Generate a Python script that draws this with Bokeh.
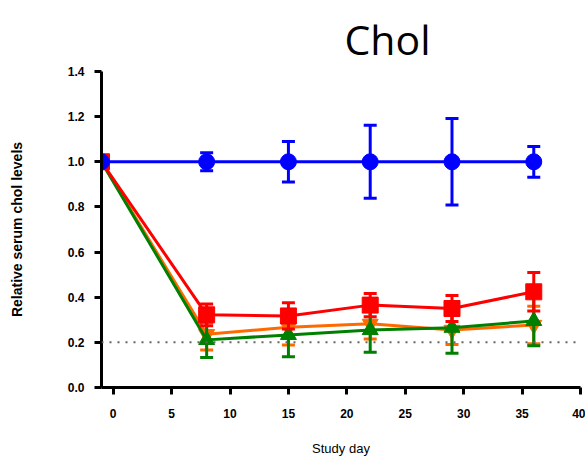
from bokeh.plotting import figure
from bokeh.models import ColumnDataSource, FixedTicker, NumeralTickFormatter, Span, Range1d
from bokeh.embed import file_html
from bokeh.resources import INLINE

days = [-1, 8, 15, 22, 29, 36]

blue_mean = [1.0, 1.0, 1.0, 1.0, 1.0, 1.0]
blue_err = [0.0, 0.04, 0.09, 0.162, 0.192, 0.068]

red_mean = [1.0, 0.322, 0.317, 0.365, 0.35, 0.424]
red_err = [0.0, 0.048, 0.058, 0.051, 0.058, 0.085]

orange_mean = [1.0, 0.236, 0.267, 0.282, 0.255, 0.277]
orange_err = [0.0, 0.07, 0.079, 0.067, 0.065, 0.083]

green_mean = [1.0, 0.211, 0.233, 0.255, 0.265, 0.295]
green_err = [0.0, 0.078, 0.097, 0.099, 0.113, 0.11]

x_ticks = [0, 5, 10, 15, 20, 25, 30, 35, 40]
y_ticks = [0.0, 0.2, 0.4, 0.6, 0.8, 1.0, 1.2, 1.4]
threshold = 0.2

FONT = "Liberation Sans"

p = figure(width=585, height=461, output_backend="svg", toolbar_location=None,
           x_range=Range1d(-1, 40), y_range=Range1d(0, 1.4),
           min_border_left=101, min_border_right=5, min_border_top=71,
           min_border_bottom=74)
p.outline_line_color = None
p.xgrid.grid_line_color = None
p.ygrid.grid_line_color = None
p.background_fill_color = "white"

p.title.text = "Chol"
p.title.text_font = "Open Sans"
p.title.text_font_size = "41px"
p.title.text_font_style = "normal"
p.title.align = "left"
p.title.offset = 243
p.title.text_color = "black"

for ax in (p.xaxis[0], p.yaxis[0]):
    ax.axis_line_width = 3
    ax.axis_line_color = "black"
    ax.major_tick_line_width = 3
    ax.major_tick_line_color = "black"
    ax.major_tick_out = 7
    ax.major_tick_in = 0
    ax.minor_tick_line_color = None
    ax.major_label_text_font = FONT
    ax.major_label_text_font_style = "bold"
    ax.major_label_text_font_size = "12px"
    ax.major_label_text_color = "black"
    ax.axis_label_text_font = FONT
    ax.axis_label_text_color = "black"

p.xaxis.ticker = FixedTicker(ticks=x_ticks)
p.yaxis.ticker = FixedTicker(ticks=y_ticks)
p.yaxis.formatter = NumeralTickFormatter(format="0.0")
p.xaxis.major_label_standoff = 14
p.yaxis.major_label_standoff = 10

p.xaxis.axis_label = "Study day"
p.xaxis.axis_label_text_font_size = "13px"
p.xaxis.axis_label_text_font_style = "normal"
p.xaxis.axis_label_standoff = 20

p.yaxis.axis_label = "Relative serum chol levels"
p.yaxis.axis_label_text_font_size = "14px"
p.yaxis.axis_label_text_font_style = "bold"
p.yaxis.axis_label_standoff = 40

p.add_layout(Span(location=threshold, dimension="width", line_color="#666666",
                  line_width=2, line_dash="2 6"))

series = [
    (orange_mean, orange_err, "#FF6A00", "inverted_triangle"),
    (green_mean, green_err, "#008000", "triangle"),
    (red_mean, red_err, "#FF0000", "square"),
    (blue_mean, blue_err, "#0000FF", "circle"),
]

for mean, err, color, marker in series:
    upper = [m + e for m, e in zip(mean, err)]
    lower = [m - e for m, e in zip(mean, err)]
    src = ColumnDataSource(dict(x=days, y=mean, upper=upper, lower=lower))
    p.line("x", "y", source=src, line_color=color, line_width=3)
    p.segment(x0="x", y0="lower", x1="x", y1="upper", source=src,
              line_color=color, line_width=3)
    p.scatter("x", "upper", source=src, marker="dash", size=13,
              line_color=color, line_width=3)
    p.scatter("x", "lower", source=src, marker="dash", size=13,
              line_color=color, line_width=3)
    p.scatter("x", "y", source=src, marker=marker, size=16,
              fill_color=color, line_color=color)

open("out.html", "w").write(file_html(p, INLINE))
